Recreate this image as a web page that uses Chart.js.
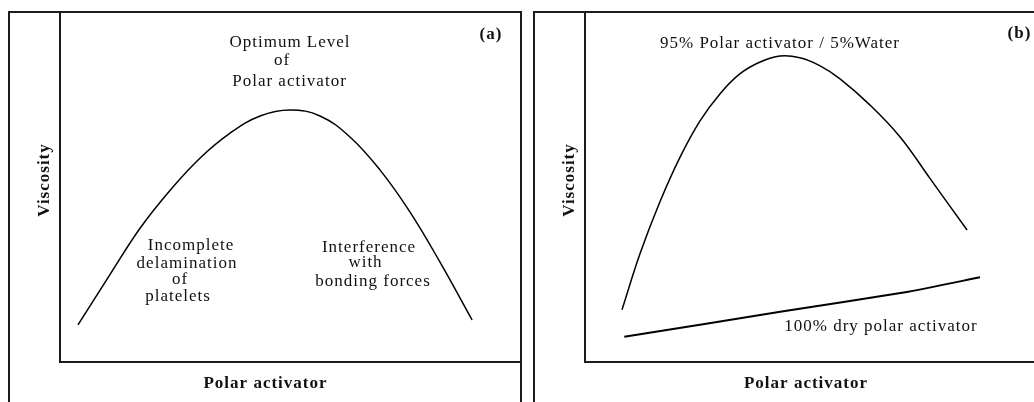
<!DOCTYPE html>
<html>
<head>
<meta charset="utf-8">
<title>Viscosity vs polar activator</title>
<script src="https://cdn.jsdelivr.net/npm/chart.js@4"></script>
<style>
  html, body { margin: 0; padding: 0; background: #fff; overflow: hidden; width: 1034px; height: 402px; }
  canvas { position: absolute; top: 0; }
  #panelA { left: 0; }
  #panelB { left: 527px; }
</style>
</head>
<body>
<canvas id="panelA" width="527" height="402"></canvas>
<canvas id="panelB" width="530" height="402"></canvas>
<script>
// (a) viscosity rising to an optimum level of polar activator, then falling
const activatorA = [3.9, 10.8, 17.4, 23.9, 30.4, 36.9, 43.4, 49.9, 56.4, 62.9, 69.4, 75.9, 82.4, 89.4];
const viscosityA = [10.6, 24.9, 38.3, 49.1, 58.3, 65.4, 70.3, 72.0, 70.3, 64.3, 54.9, 42.9, 28.6, 12.0];

// (b) 95% polar activator / 5% water
const activatorWet = [8.0, 11.9, 16.2, 20.6, 24.9, 29.2, 33.5, 37.9, 42.2, 46.5, 50.9, 55.2, 61.7, 68.2, 74.7, 82.7];
const viscosityWet = [14.9, 30.9, 45.7, 58.6, 68.9, 76.6, 82.3, 85.7, 87.4, 86.9, 84.6, 80.9, 73.4, 64.3, 52.4, 37.7];

// (b) 100% dry polar activator
const activatorDry = [8.5, 42.6, 70.0, 85.5];
const viscosityDry = [7.2, 14.4, 20.1, 24.2];

const toPoints = (xs, ys) => xs.map((x, i) => ({ x: x, y: ys[i] }));

const INK = '#1c1c1c';
const FONT = '"Liberation Serif", "Times New Roman", serif';

// Outer panel frame plus free-standing annotation text
const panelDecor = {
  id: 'panelDecor',
  afterDraw(chart, args, opts) {
    const ctx = chart.ctx;
    const f = opts.frame;
    ctx.save();
    ctx.strokeStyle = INK;
    ctx.lineWidth = 2;
    ctx.beginPath();
    ctx.moveTo(f.left, chart.height + 2);
    ctx.lineTo(f.left, f.top);
    ctx.lineTo(f.right, f.top);
    ctx.lineTo(f.right, chart.height + 2);
    ctx.stroke();

    ctx.fillStyle = '#111';
    ctx.textAlign = 'center';
    ctx.textBaseline = 'alphabetic';
    if ('letterSpacing' in ctx) ctx.letterSpacing = '1px';
    for (const l of opts.labels) {
      ctx.save();
      ctx.font = (l.bold ? 'bold ' : '') + '17px ' + FONT;
      ctx.translate(l.x, l.y);
      if (l.rotate) ctx.rotate(-Math.PI / 2);
      ctx.fillText(l.text, 0, 0);
      ctx.restore();
    }
    ctx.restore();
  }
};

function axis() {
  return {
    type: 'linear', min: 0, max: 100,
    grid: { display: false, drawTicks: false },
    ticks: { display: false },
    border: { display: true, color: INK, width: 2 }
  };
}

function makeChart(id, datasets, padding, decor) {
  return new Chart(document.getElementById(id), {
    type: 'line',
    data: { datasets: datasets },
    options: {
      responsive: false,
      animation: false,
      events: [],
      layout: { padding: padding, autoPadding: false },
      scales: { x: axis(), y: axis() },
      plugins: {
        legend: { display: false },
        tooltip: { enabled: false },
        panelDecor: decor
      }
    },
    plugins: [panelDecor]
  });
}

function curve(points, width, tension) {
  return {
    data: points,
    borderColor: '#000',
    borderWidth: width,
    pointRadius: 0,
    fill: false,
    tension: tension
  };
}

makeChart('panelA',
  [curve(toPoints(activatorA, viscosityA), 1.5, 0.4)],
  { left: 60, top: 12, right: 6, bottom: 40 },
  {
    frame: { left: 9, top: 12, right: 521 },
    labels: [
      { text: 'Optimum Level', x: 290, y: 47 },
      { text: 'of', x: 282, y: 64.5 },
      { text: 'Polar activator', x: 289.5, y: 86 },
      { text: 'Incomplete', x: 191, y: 250 },
      { text: 'delamination', x: 187, y: 268 },
      { text: 'of', x: 180, y: 284 },
      { text: 'platelets', x: 178, y: 301 },
      { text: 'Interference', x: 369, y: 251.5 },
      { text: 'with', x: 365.5, y: 266.5 },
      { text: 'bonding forces', x: 373, y: 285.5 },
      { text: '(a)', x: 491, y: 39, bold: true },
      { text: 'Viscosity', x: 49, y: 180, bold: true, rotate: true },
      { text: 'Polar activator', x: 265.5, y: 388, bold: true }
    ]
  });

makeChart('panelB',
  [curve(toPoints(activatorWet, viscosityWet), 1.5, 0.4),
   curve(toPoints(activatorDry, viscosityDry), 2, 0.2)],
  { left: 58, top: 12, right: 10, bottom: 40 },
  {
    frame: { left: 7, top: 12, right: 520 },
    labels: [
      { text: '95% Polar activator / 5%Water', x: 253, y: 48 },
      { text: '100% dry polar activator', x: 354, y: 331 },
      { text: '(b)', x: 492.5, y: 38, bold: true },
      { text: 'Viscosity', x: 47.3, y: 180, bold: true, rotate: true },
      { text: 'Polar activator', x: 279, y: 388, bold: true }
    ]
  });
</script>
</body>
</html>
